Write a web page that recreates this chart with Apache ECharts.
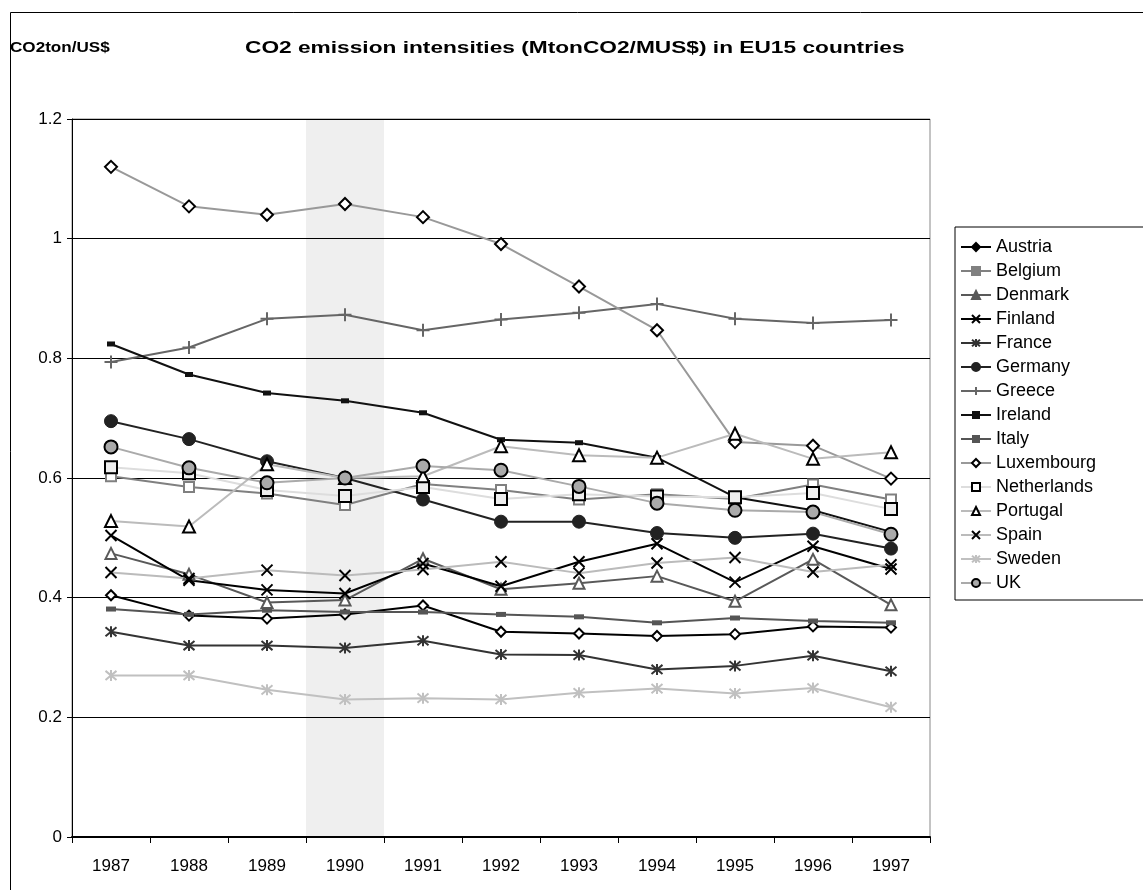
<!DOCTYPE html>
<html><head><meta charset="utf-8">
<script src="https://cdn.jsdelivr.net/npm/echarts@6/dist/echarts.min.js"></script>
<style>html,body{margin:0;padding:0;background:#fff}#c{width:1143px;height:890px}</style>
</head><body><div id="c"></div>
<script>
// ---- data ----
const years = ['1987','1988','1989','1990','1991','1992','1993','1994','1995','1996','1997'];
const yTicks = [0, 0.2, 0.4, 0.6, 0.8, 1, 1.2];
const shadeBand = [null, null, null, 1.2, null, null, null, null, null, null, null];
const austria     = [0.404, 0.370, 0.365, 0.372, 0.387, 0.343, 0.340, 0.336, 0.339, 0.352, 0.350];
const belgium     = [0.603, 0.585, 0.574, 0.555, 0.590, 0.580, 0.564, 0.573, 0.565, 0.589, 0.564];
const denmark     = [0.474, 0.439, 0.392, 0.396, 0.465, 0.414, 0.424, 0.436, 0.394, 0.464, 0.388];
const finland     = [0.504, 0.429, 0.413, 0.407, 0.457, 0.419, 0.460, 0.490, 0.426, 0.486, 0.448];
const france      = [0.343, 0.320, 0.320, 0.316, 0.328, 0.305, 0.304, 0.280, 0.286, 0.303, 0.277];
const germany     = [0.695, 0.665, 0.628, 0.600, 0.564, 0.527, 0.527, 0.508, 0.500, 0.507, 0.482];
const greece      = [0.794, 0.818, 0.866, 0.873, 0.847, 0.865, 0.876, 0.891, 0.866, 0.859, 0.864];
const ireland     = [0.824, 0.773, 0.742, 0.729, 0.709, 0.664, 0.659, 0.634, 0.568, 0.546, 0.510];
const italy       = [0.381, 0.372, 0.379, 0.376, 0.376, 0.372, 0.368, 0.358, 0.366, 0.361, 0.358];
const luxembourg  = [1.120, 1.054, 1.040, 1.058, 1.036, 0.991, 0.920, 0.847, 0.660, 0.654, 0.599];
const netherlands = [0.618, 0.608, 0.580, 0.570, 0.585, 0.565, 0.573, 0.569, 0.568, 0.575, 0.548];
const portugal    = [0.528, 0.519, 0.623, 0.600, 0.603, 0.653, 0.638, 0.634, 0.674, 0.632, 0.643];
const spain       = [0.442, 0.432, 0.446, 0.437, 0.447, 0.460, 0.441, 0.458, 0.467, 0.443, 0.455];
const sweden      = [0.270, 0.270, 0.246, 0.230, 0.232, 0.230, 0.241, 0.248, 0.240, 0.249, 0.217];
const uk          = [0.652, 0.617, 0.592, 0.600, 0.620, 0.613, 0.586, 0.558, 0.546, 0.543, 0.506];

// ---- styling ----
const X_PATH = 'path://M0,0L10,10M10,0L0,10';
const AST_PATH = 'path://M0,0L10,10M10,0L0,10M5,-1L5,11';
const PLUS_PATH = 'path://M5,0L5,10M0,5L10,5';
const FONT = 'Liberation Sans, Arial, sans-serif';

function mk(name, data, line, symbol, size, fill, border, bw) {
  return {
    name: name, type: 'line', data: data, symbol: symbol, symbolSize: size,
    showAllSymbol: true, z: 3,
    lineStyle: { color: line, width: 2 },
    itemStyle: { color: fill, borderColor: border, borderWidth: bw },
    emphasis: { disabled: true },
    animation: false
  };
}

const series = [
  { name: 'shade', type: 'bar', data: shadeBand, barWidth: '100%', barGap: '-100%', z: -1,
    itemStyle: { color: '#efefef' }, silent: true, animation: false },
  mk('Austria', austria, '#000000', 'diamond', 10, '#ffffff', '#000000', 2),
  mk('Belgium', belgium, '#808080', 'rect', 10, '#ffffff', '#808080', 2),
  mk('Denmark', denmark, '#595959', 'triangle', 11, '#ffffff', '#595959', 2),
  mk('Finland', finland, '#000000', X_PATH, 11, 'rgba(0,0,0,0)', '#000000', 2),
  mk('France', france, '#333333', AST_PATH, 11, 'rgba(0,0,0,0)', '#333333', 2),
  mk('Germany', germany, '#222222', 'circle', 13, '#222222', '#222222', 1),
  mk('Greece', greece, '#666666', PLUS_PATH, 13, 'rgba(0,0,0,0)', '#666666', 2),
  mk('Ireland', ireland, '#111111', 'rect', [8, 5], '#111111', '#111111', 0),
  mk('Italy', italy, '#555555', 'rect', [10, 5], '#555555', '#555555', 0),
  mk('Luxembourg', luxembourg, '#999999', 'diamond', 12, '#ffffff', '#000000', 2),
  mk('Netherlands', netherlands, '#dddddd', 'rect', 12, '#eeeeee', '#000000', 2),
  mk('Portugal', portugal, '#bbbbbb', 'triangle', 12, '#ffffff', '#000000', 2),
  mk('Spain', spain, '#bbbbbb', X_PATH, 11, 'rgba(0,0,0,0)', '#000000', 2),
  mk('Sweden', sweden, '#c0c0c0', AST_PATH, 11, 'rgba(0,0,0,0)', '#c0c0c0', 2),
  mk('UK', uk, '#aaaaaa', 'circle', 13, '#aaaaaa', '#000000', 2)
];

const legendNames = ['Austria','Belgium','Denmark','Finland','France','Germany','Greece','Ireland','Italy','Luxembourg','Netherlands','Portugal','Spain','Sweden','UK'];
const legendIconStyle = {
  Austria: { color: '#000000', borderColor: '#000000' },
  Belgium: { color: '#808080', borderColor: '#808080' },
  Denmark: { color: '#595959', borderColor: '#595959' },
  Netherlands: { color: '#ffffff', borderColor: '#000000' },
  Luxembourg: { color: '#ffffff', borderColor: '#000000' }
};

const chart = echarts.init(document.getElementById('c'), null, { renderer: 'canvas' });
chart.setOption({
  backgroundColor: '#ffffff',
  animation: false,
  textStyle: { fontFamily: FONT },
  graphic: [
    { type: 'rect', left: 8, top: 10, shape: { width: 1200, height: 1000 }, silent: true,
      style: { fill: 'none', stroke: '#000', lineWidth: 1 }, z: 10 },
    { type: 'text', x: 10, y: 48, scaleX: 1.14, silent: true,
      style: { text: 'CO2ton/US$', font: 'bold 15px ' + FONT, fill: '#000', verticalAlign: 'middle' } },
    { type: 'text', x: 245, y: 48, scaleX: 1.335, silent: true,
      style: { text: 'CO2 emission intensities (MtonCO2/MUS$) in EU15 countries', font: 'bold 17px ' + FONT, fill: '#000', verticalAlign: 'middle' } }
  ],
  grid: { left: 72, right: 213, top: 119, bottom: 53, show: true, borderColor: '#888888', borderWidth: 1, backgroundColor: 'transparent' },
  legend: {
    data: legendNames.map(n => legendIconStyle[n] ? { name: n, itemStyle: legendIconStyle[n] } : n),
    orient: 'vertical', left: 955, top: 227,
    itemWidth: 30, itemHeight: 10, itemGap: 6,
    padding: [11, 80, 8, 5],
    borderColor: '#000', borderWidth: 1,
    textStyle: { fontSize: 18, lineHeight: 16, color: '#000', fontFamily: FONT },
    selectedMode: false
  },
  xAxis: {
    type: 'category', data: years, boundaryGap: true,
    axisLine: { lineStyle: { color: '#000', width: 2 } },
    axisTick: { show: true, length: 6, lineStyle: { color: '#000' } },
    axisLabel: { fontSize: 17, color: '#000', margin: 21, fontFamily: FONT },
    splitLine: { show: false }
  },
  yAxis: {
    type: 'value', min: 0, max: 1.2, interval: 0.2,
    axisLine: { show: true, lineStyle: { color: '#000', width: 1 } },
    axisTick: { show: true, length: 5, lineStyle: { color: '#000' } },
    axisLabel: { fontSize: 17, color: '#000', margin: 10, fontFamily: FONT },
    splitLine: { show: true, lineStyle: { color: '#000', width: 1 } }
  },
  series: series
});
</script>
</body></html>
